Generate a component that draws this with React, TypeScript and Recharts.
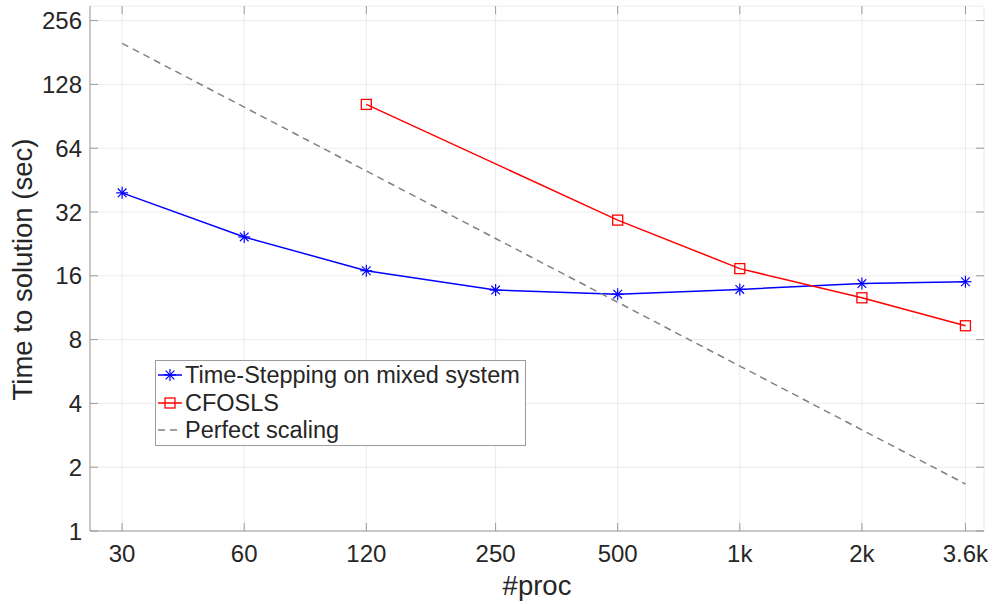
import React from "react";
import { LineChart, Line, XAxis, YAxis, CartesianGrid, Legend } from "recharts";

// processor counts (log x axis) and their printed labels
const procs = [30, 60, 120, 250, 500, 1000, 2000, 3600];
const procLabels = ["30", "60", "120", "250", "500", "1k", "2k", "3.6k"];

// time to solution in seconds
const timeStepping = [39.4, 24.4, 16.9, 13.7, 13.1, 13.8, 14.7, 15.0];
const cfosls = [null, null, 103, null, 29.3, 17.3, 12.6, 9.3];
const perfectScaling = [200, 100, 50, 24, 12, 6, 3, 1.667];

const timeTicks = [1, 2, 4, 8, 16, 32, 64, 128, 256];

const seriesNames = ["Time-Stepping on mixed system", "CFOSLS", "Perfect scaling"];

const rows = procs.map((p, i) => ({
  p,
  ts: timeStepping[i],
  cf: cfosls[i],
  ps: perfectScaling[i],
}));

const FONT = '"Liberation Sans", Arial, Helvetica, sans-serif';
const INK = "#262626";
const FRAME = "#9b9b9b";
const GRID = "#ebebeb";
const BLUE = "#0000ff";
const RED = "#ff0000";
const GREY = "#808080";

// plot box in page pixels, used for the inward MATLAB-style tick marks
const BOX = { left: 90, right: 984, top: 6, bottom: 531 };
const TICK_LEN = 8;

function Asterisk({ cx, cy, r = 6, color = BLUE }: { cx: number; cy: number; r?: number; color?: string }) {
  const d = r * 0.72;
  return (
    <g stroke={color} strokeWidth={1.2}>
      <line x1={cx - r} x2={cx + r} y1={cy} y2={cy} />
      <line x1={cx} x2={cx} y1={cy - r} y2={cy + r} />
      <line x1={cx - d} x2={cx + d} y1={cy - d} y2={cy + d} />
      <line x1={cx - d} x2={cx + d} y1={cy + d} y2={cy - d} />
    </g>
  );
}

function Square({ cx, cy, s = 10, color = RED }: { cx: number; cy: number; s?: number; color?: string }) {
  return <rect x={cx - s / 2} y={cy - s / 2} width={s} height={s} fill="none" stroke={color} strokeWidth={1.3} />;
}

function StarDot(props: any) {
  const { cx, cy, value } = props;
  if (value == null || cy == null) return <g />;
  return <Asterisk cx={cx} cy={cy} />;
}

function SquareDot(props: any) {
  const { cx, cy, value } = props;
  if (value == null || cy == null) return <g />;
  return <Square cx={cx} cy={cy} />;
}

function ProcTick({ x, y, payload }: any) {
  const i = procs.indexOf(payload.value);
  return (
    <g>
      <line x1={x} x2={x} y1={BOX.bottom} y2={BOX.bottom - TICK_LEN} stroke={FRAME} />
      <line x1={x} x2={x} y1={BOX.top} y2={BOX.top + TICK_LEN} stroke={FRAME} />
      <text x={x} y={y} dy="0.71em" textAnchor="middle" fontSize={24} fill={INK} fontFamily={FONT}>
        {procLabels[i]}
      </text>
    </g>
  );
}

function TimeTick({ x, y, payload }: any) {
  return (
    <g>
      <line x1={BOX.left} x2={BOX.left + TICK_LEN} y1={y} y2={y} stroke={FRAME} />
      <line x1={BOX.right} x2={BOX.right - TICK_LEN} y1={y} y2={y} stroke={FRAME} />
      <text x={x} y={y} dy="0.36em" textAnchor="end" fontSize={24} fill={INK} fontFamily={FONT}>
        {payload.value}
      </text>
    </g>
  );
}

function YTitle({ viewBox }: any) {
  const x = viewBox.x + 32;
  const y = viewBox.y + viewBox.height / 2 + 1;
  return (
    <text x={x} y={y} transform={`rotate(-90, ${x}, ${y})`} textAnchor="middle" fontSize={27.5} fill={INK} fontFamily={FONT}>
      Time to solution (sec)
    </text>
  );
}

function XTitle({ viewBox }: any) {
  const x = viewBox.x + viewBox.width / 2;
  const y = viewBox.y + 64;
  return (
    <text x={x} y={y} textAnchor="middle" fontSize={27.5} fill={INK} fontFamily={FONT}>
      #proc
    </text>
  );
}

function LegendBox() {
  const rowY = [15, 43, 70];
  return (
    <svg width={371} height={86} style={{ display: "block" }}>
      <rect x={0.5} y={0.5} width={370} height={85} fill="#fff" stroke={FRAME} />
      <line x1={3} x2={27} y1={rowY[0]} y2={rowY[0]} stroke={BLUE} strokeWidth={1.5} />
      <Asterisk cx={15} cy={rowY[0]} />
      <line x1={3} x2={27} y1={rowY[1]} y2={rowY[1]} stroke={RED} strokeWidth={1.5} />
      <Square cx={15} cy={rowY[1]} />
      <line x1={3} x2={27} y1={rowY[2]} y2={rowY[2]} stroke={GREY} strokeWidth={1.5} strokeDasharray="7 5" />
      {seriesNames.map((name, i) => (
        <text key={name} x={30} y={rowY[i]} dy="0.36em" fontSize={23.5} fill={INK} fontFamily={FONT}>
          {name}
        </text>
      ))}
    </svg>
  );
}

export default function App() {
  const xDomain = [25, 4000];
  const yDomain = [1, 300];
  return (
    <div style={{ width: 994, height: 604, position: "relative", background: "#fff" }}>
      <style>{"body{margin:0;}"}</style>
      <LineChart width={994} height={604} data={rows} margin={{ top: 6, right: 10, left: 0, bottom: 0 }}>
        <CartesianGrid stroke={GRID} strokeWidth={1} />
        <XAxis
          dataKey="p"
          type="number"
          scale="log"
          domain={xDomain}
          ticks={procs}
          allowDataOverflow
          height={73}
          tickSize={0}
          tickMargin={14}
          tickLine={false}
          axisLine={{ stroke: FRAME }}
          tick={<ProcTick />}
          interval={0}
          label={<XTitle />}
        />
        <XAxis
          xAxisId="top"
          orientation="top"
          type="number"
          scale="log"
          domain={xDomain}
          ticks={procs}
          allowDataOverflow
          height={0}
          tick={false}
          tickLine={false}
          axisLine={{ stroke: FRAME }}
        />
        <YAxis
          type="number"
          scale="log"
          domain={yDomain}
          ticks={timeTicks}
          allowDataOverflow
          width={90}
          tickSize={0}
          tickMargin={8}
          tickLine={false}
          axisLine={{ stroke: FRAME }}
          tick={<TimeTick />}
          interval={0}
          label={<YTitle />}
        />
        <YAxis
          yAxisId="right"
          orientation="right"
          type="number"
          scale="log"
          domain={yDomain}
          ticks={timeTicks}
          allowDataOverflow
          width={0}
          tick={false}
          tickLine={false}
          axisLine={{ stroke: FRAME }}
        />
        <Line
          dataKey="ts"
          name={seriesNames[0]}
          stroke={BLUE}
          strokeWidth={1.5}
          dot={<StarDot />}
          isAnimationActive={false}
        />
        <Line
          dataKey="cf"
          name={seriesNames[1]}
          stroke={RED}
          strokeWidth={1.5}
          connectNulls
          dot={<SquareDot />}
          isAnimationActive={false}
        />
        <Line
          dataKey="ps"
          name={seriesNames[2]}
          stroke={GREY}
          strokeWidth={1.5}
          strokeDasharray="7 5"
          dot={false}
          isAnimationActive={false}
        />
        <Legend
          layout="vertical"
          align="center"
          verticalAlign="middle"
          wrapperStyle={{ left: 155, top: 360, width: 371, height: 86 }}
          content={() => <LegendBox />}
        />
      </LineChart>
    </div>
  );
}
